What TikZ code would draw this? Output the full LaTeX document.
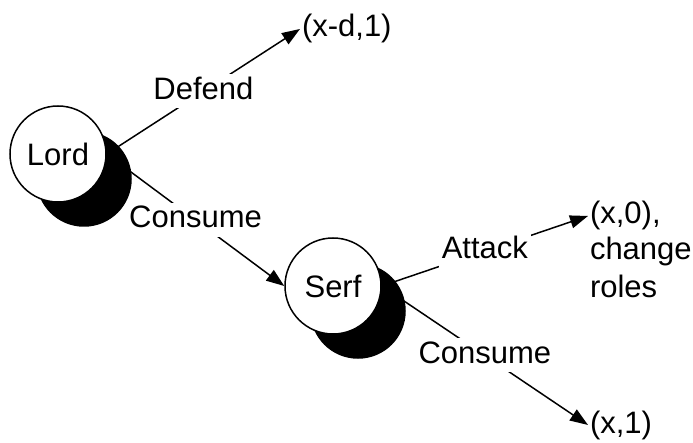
\documentclass[tikz,border=0pt]{standalone}
\usepackage{fontspec}
\setmainfont{Liberation Sans}
\usetikzlibrary{arrows.meta,backgrounds}

\tikzset{
  player/.style={circle, draw=black, fill=white, line width=1.5pt,
    minimum size=96pt, inner sep=0pt},
  shade/.style={circle, draw=black, fill=black, line width=1.5pt,
    minimum size=94pt, inner sep=0pt},
  move/.style={line width=1.5pt, -{Triangle[length=18pt,width=13pt]}},
  choice/.style={fill=white, inner sep=3pt, text height=22pt, text depth=6pt},
  payoff/.style={inner sep=0pt, outer sep=2pt, anchor=base west}
}

\begin{document}
\begin{tikzpicture}[x=1pt, y=-1pt, font=\fontsize{31pt}{37pt}\selectfont]
  \useasboundingbox (0,0) rectangle (693,443);

  % players: dark shadow disc behind each white disc
  \node[shade]  (lordshadow) at (84,179) {};
  \node[player] (lord)       at (58,154) {Lord};
  \node[shade]  (serfshadow) at (358,311) {};
  \node[player] (serf)       at (333,286) {Serf};

  % outcomes
  \node[payoff] (xd1)    at (300,37)  {(x-d,1)};
  \node[payoff] (x0)     at (588,224) {(x,0),};
  \node[payoff] (change) at (588,260) {change};
  \node[payoff] (roles)  at (588,298) {roles};
  \node[payoff] (x1)     at (588,433) {(x,1)};

  % moves, kept behind the discs
  \begin{scope}[on background layer]
    \draw[move] (lord.east) -- node[choice] {Defend}  (xd1.west);
    \draw[move] (lord.east) -- node[choice] {Consume} (serf.west);
    \draw[move] (serf.east) -- node[choice] {Attack}  (x0.west);
    \draw[move] (serf.east) -- node[choice] {Consume} (x1.west);
  \end{scope}
\end{tikzpicture}
\end{document}
